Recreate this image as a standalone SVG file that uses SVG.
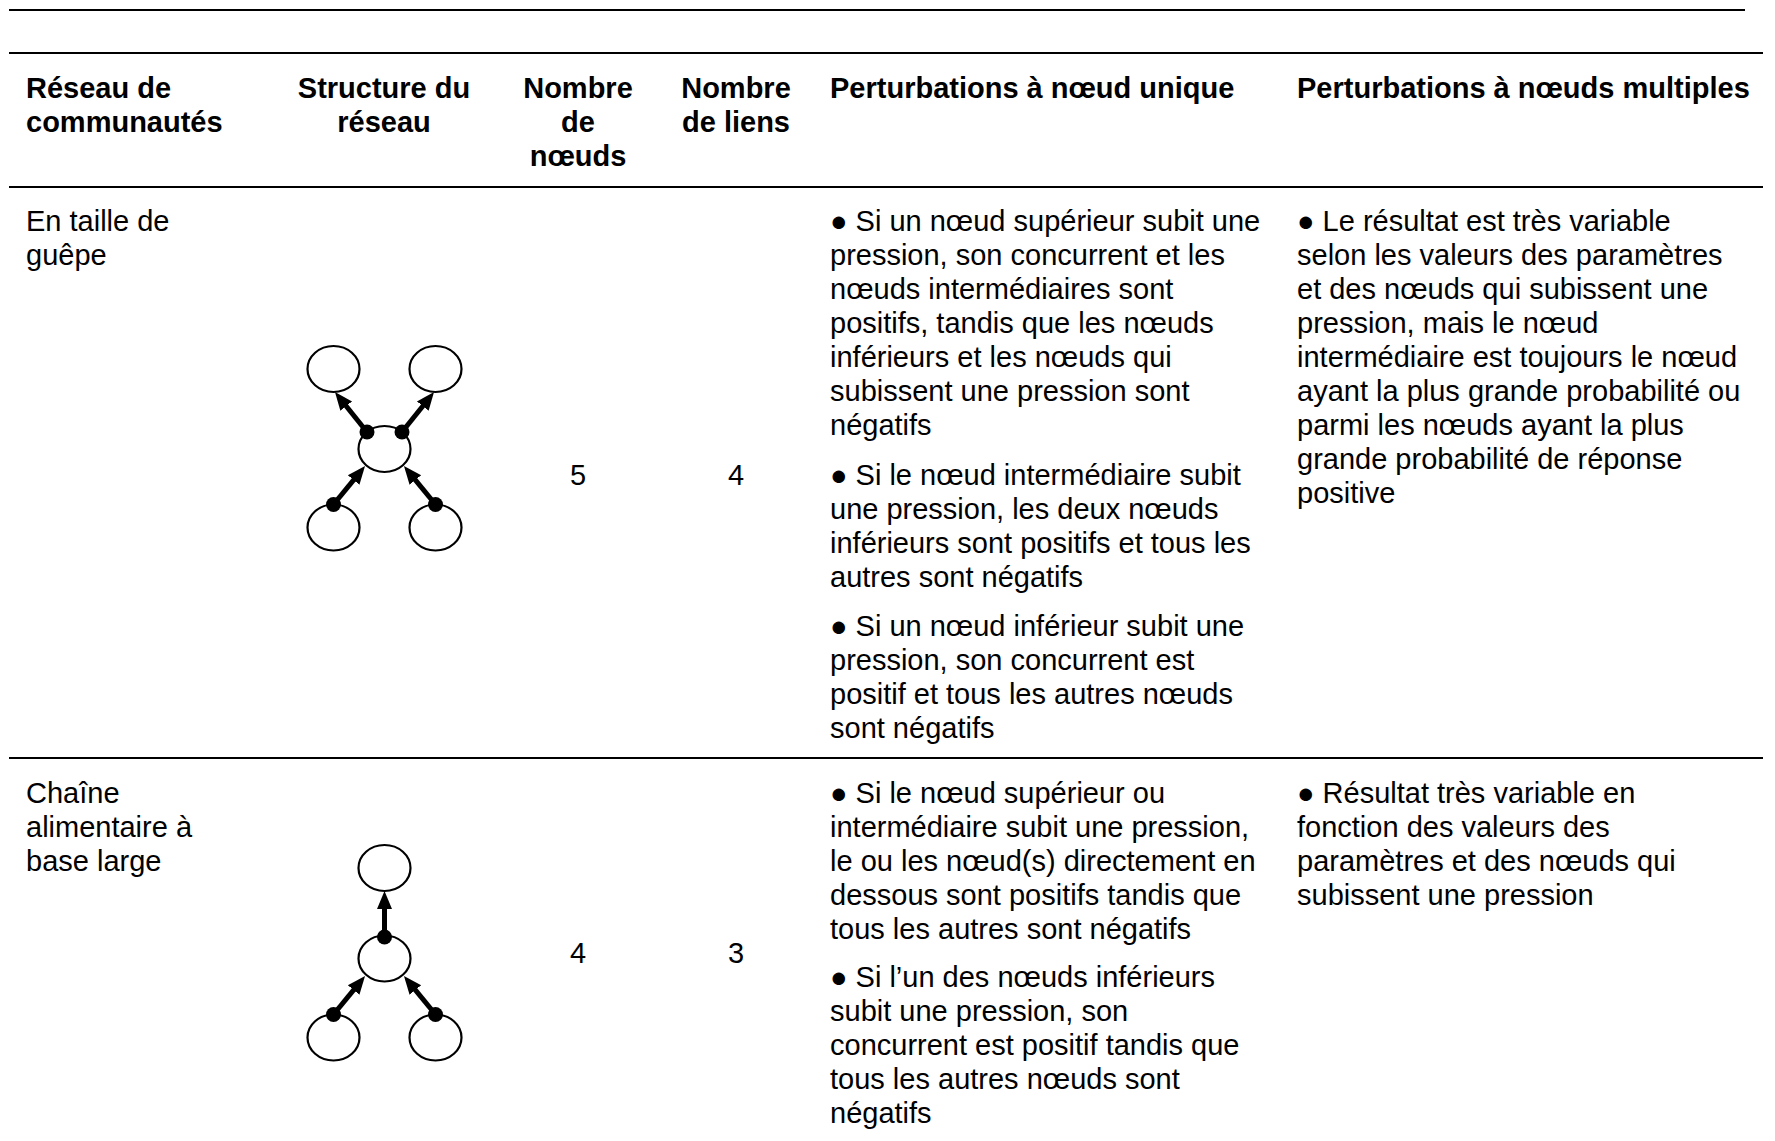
<svg xmlns="http://www.w3.org/2000/svg" width="1775" height="1141" viewBox="0 0 1775 1141">
<style>
text{font-family:"Liberation Sans",Arial,sans-serif;font-size:29px;fill:#000}
.h{font-weight:bold}
.c{text-anchor:middle}
.rule{stroke:#000;stroke-width:2.2}
.node{fill:#fff;stroke:#000;stroke-width:2.2}
.edge{stroke:#000;stroke-width:5;fill:none;marker-end:url(#ah)}
.dot{fill:#000}
</style>
<defs>
<marker id="ah" markerUnits="userSpaceOnUse" markerWidth="20" markerHeight="18" viewBox="0 -9 20 18" refX="5" refY="0" orient="auto">
<path d="M0,-7.5 L18,0 L0,7.5 z" fill="#000"/>
</marker>
</defs>
<rect width="1775" height="1141" fill="#fff"/>
<g id="rules">
<line class="rule" x1="9" y1="10" x2="1745" y2="10"/>
<line class="rule" x1="9" y1="53" x2="1763" y2="53"/>
<line class="rule" x1="9" y1="187" x2="1763" y2="187"/>
<line class="rule" x1="9" y1="758" x2="1763" y2="758"/>
</g>
<g id="header" class="h">
<text class="h" x="26" y="98">Réseau de</text>
<text class="h" x="26" y="132">communautés</text>
<text class="h c" x="384" y="98">Structure du</text>
<text class="h c" x="384" y="132">réseau</text>
<text class="h c" x="578" y="98">Nombre</text>
<text class="h c" x="578" y="132">de</text>
<text class="h c" x="578" y="166">nœuds</text>
<text class="h c" x="736" y="98">Nombre</text>
<text class="h c" x="736" y="132">de liens</text>
<text class="h" x="830" y="98">Perturbations à nœud unique</text>
<text class="h" x="1297" y="98">Perturbations à nœuds multiples</text>
</g>
<g id="row1-text">
<text x="26" y="231">En taille de</text>
<text x="26" y="265">guêpe</text>
<text class="c" x="578" y="485">5</text>
<text class="c" x="736" y="485">4</text>
<text x="830" y="231">● Si un nœud supérieur subit une</text>
<text x="830" y="265">pression, son concurrent et les</text>
<text x="830" y="299">nœuds intermédiaires sont</text>
<text x="830" y="333">positifs, tandis que les nœuds</text>
<text x="830" y="367">inférieurs et les nœuds qui</text>
<text x="830" y="401">subissent une pression sont</text>
<text x="830" y="435">négatifs</text>
<text x="830" y="485">● Si le nœud intermédiaire subit</text>
<text x="830" y="519">une pression, les deux nœuds</text>
<text x="830" y="553">inférieurs sont positifs et tous les</text>
<text x="830" y="587">autres sont négatifs</text>
<text x="830" y="636">● Si un nœud inférieur subit une</text>
<text x="830" y="670">pression, son concurrent est</text>
<text x="830" y="704">positif et tous les autres nœuds</text>
<text x="830" y="738">sont négatifs</text>
<text x="1297" y="231">● Le résultat est très variable</text>
<text x="1297" y="265">selon les valeurs des paramètres</text>
<text x="1297" y="299">et des nœuds qui subissent une</text>
<text x="1297" y="333">pression, mais le nœud</text>
<text x="1297" y="367">intermédiaire est toujours le nœud</text>
<text x="1297" y="401">ayant la plus grande probabilité ou</text>
<text x="1297" y="435">parmi les nœuds ayant la plus</text>
<text x="1297" y="469">grande probabilité de réponse</text>
<text x="1297" y="503">positive</text>
</g>
<g id="row2-text">
<text x="26" y="803">Chaîne</text>
<text x="26" y="837">alimentaire à</text>
<text x="26" y="871">base large</text>
<text class="c" x="578" y="963">4</text>
<text class="c" x="736" y="963">3</text>
<text x="830" y="803">● Si le nœud supérieur ou</text>
<text x="830" y="837">intermédiaire subit une pression,</text>
<text x="830" y="871">le ou les nœud(s) directement en</text>
<text x="830" y="905">dessous sont positifs tandis que</text>
<text x="830" y="939">tous les autres sont négatifs</text>
<text x="830" y="987">● Si l’un des nœuds inférieurs</text>
<text x="830" y="1021">subit une pression, son</text>
<text x="830" y="1055">concurrent est positif tandis que</text>
<text x="830" y="1089">tous les autres nœuds sont</text>
<text x="830" y="1123">négatifs</text>
<text x="1297" y="803">● Résultat très variable en</text>
<text x="1297" y="837">fonction des valeurs des</text>
<text x="1297" y="871">paramètres et des nœuds qui</text>
<text x="1297" y="905">subissent une pression</text>
</g>
<g id="w-top-left"><ellipse class="node" cx="333.5" cy="369" rx="26" ry="23"/></g>
<g id="w-top-right"><ellipse class="node" cx="435.5" cy="369" rx="26" ry="23"/></g>
<g id="w-middle"><ellipse class="node" cx="384.5" cy="449" rx="26" ry="23"/></g>
<g id="w-bottom-left"><ellipse class="node" cx="333.5" cy="527.5" rx="26" ry="23"/></g>
<g id="w-bottom-right"><ellipse class="node" cx="435.5" cy="527.5" rx="26" ry="23"/></g>
<g id="f-top"><ellipse class="node" cx="384.5" cy="868" rx="26" ry="23"/></g>
<g id="f-middle"><ellipse class="node" cx="384.5" cy="958.5" rx="26" ry="23"/></g>
<g id="f-bottom-left"><ellipse class="node" cx="333.5" cy="1037.5" rx="26" ry="23"/></g>
<g id="f-bottom-right"><ellipse class="node" cx="435.5" cy="1037.5" rx="26" ry="23"/></g>
<g id="connectors">
<line class="edge" x1="367" y1="432" x2="343.1" y2="402.2"/>
<line class="edge" x1="402" y1="432" x2="425.9" y2="402.2"/>
<line class="edge" x1="333.5" y1="504.5" x2="356.8" y2="476.1"/>
<line class="edge" x1="435.5" y1="504.5" x2="412.2" y2="476.1"/>
<circle class="dot" cx="367" cy="432" r="7.5"/>
<circle class="dot" cx="402" cy="432" r="7.5"/>
<circle class="dot" cx="333.5" cy="504.5" r="7.5"/>
<circle class="dot" cx="435.5" cy="504.5" r="7.5"/>
<line class="edge" x1="384.5" y1="937" x2="384.5" y2="904"/>
<line class="edge" x1="333.5" y1="1014.5" x2="356.8" y2="986.1"/>
<line class="edge" x1="435.5" y1="1014.5" x2="412.2" y2="986.1"/>
<circle class="dot" cx="384.5" cy="937" r="7.5"/>
<circle class="dot" cx="333.5" cy="1014.5" r="7.5"/>
<circle class="dot" cx="435.5" cy="1014.5" r="7.5"/>
</g>
</svg>
